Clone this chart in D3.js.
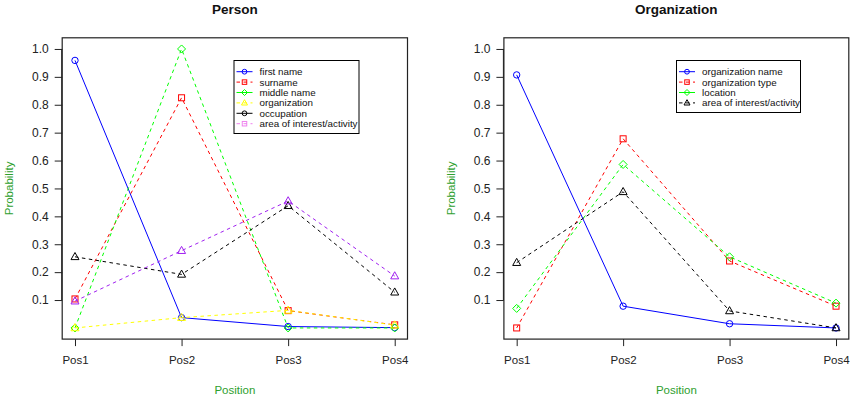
<!DOCTYPE html>
<html>
<head>
	<meta charset="utf-8">
	<title>Person / Organization</title>
	<script src="https://d3js.org/d3.v7.min.js"></script>
	<style>
	body{
		margin: 0;
		background: #ffffff;
		font-family: "Liberation Sans", Arial, Helvetica, sans-serif;
	}
	.tick text{
		fill: #222222;
	}
	</style>
</head>
<body>
	<div id="chart"></div>
	<script>
		var positions = ["Pos1", "Pos2", "Pos3", "Pos4"];
		var yTicks = [0.1, 0.2, 0.3, 0.4, 0.5, 0.6, 0.7, 0.8, 0.9, 1.0];

		// Person panel
		var personNames = ["first name", "surname", "middle name", "organization", "occupation", "area of interest/activity"];
		var firstName = [0.959, 0.037, 0.005, 0.001];
		var surname = [0.104, 0.825, 0.062, 0.011];
		var middleName = [0.0, 1.0, 0.0, 0.0];
		var organization = [0.0, 0.037, 0.063, 0.010];
		var occupation = [0.255, 0.192, 0.438, 0.128];
		var areaPerson = [0.096, 0.277, 0.455, 0.186];

		// Organization panel
		var orgNames = ["organization name", "organization type", "location", "area of interest/activity"];
		var orgName = [0.907, 0.078, 0.015, 0.0];
		var orgType = [0.0, 0.678, 0.240, 0.078];
		var orgLocation = [0.070, 0.586, 0.255, 0.089];
		var areaOrg = [0.234, 0.488, 0.061, 0.0];

		var width = 851, height = 400;

		var svg = d3.select("#chart")
			.append("svg")
			.attr("width", width)
			.attr("height", height);

		var personSeries = [
			{name: personNames[0], values: firstName, color: "#0000ff", dash: null, shape: "circle", lcolor: "#0000ff", ldash: null, lshape: "circle"},
			{name: personNames[1], values: surname, color: "#ff0000", dash: "3.5,3.5", shape: "square", lcolor: "#ff0000", ldash: "3.5,3.5", lshape: "square"},
			{name: personNames[2], values: middleName, color: "#00ff00", dash: "3.5,3.5", shape: "diamond", lcolor: "#00ff00", ldash: null, lshape: "diamond"},
			{name: personNames[3], values: organization, color: "#ffff00", dash: "3.5,3.5", shape: "triangle", lcolor: "#ffff00", ldash: "3.5,3.5", lshape: "triangle"},
			{name: personNames[4], values: occupation, color: "#000000", dash: "3.5,3.5", shape: "triangle", lcolor: "#000000", ldash: null, lshape: "circle"},
			{name: personNames[5], values: areaPerson, color: "#a020f0", dash: "3.5,3.5", shape: "triangle", lcolor: "#ee82ee", ldash: "3.5,3.5", lshape: "square"}
		];

		var orgSeries = [
			{name: orgNames[0], values: orgName, color: "#0000ff", dash: null, shape: "circle", lcolor: "#0000ff", ldash: null, lshape: "circle"},
			{name: orgNames[1], values: orgType, color: "#ff0000", dash: "3.5,3.5", shape: "square", lcolor: "#ff0000", ldash: "3.5,3.5", lshape: "square"},
			{name: orgNames[2], values: orgLocation, color: "#00ff00", dash: "3.5,3.5", shape: "diamond", lcolor: "#00ff00", ldash: null, lshape: "diamond"},
			{name: orgNames[3], values: areaOrg, color: "#000000", dash: "3.5,3.5", shape: "triangle", lcolor: "#000000", ldash: "3.5,3.5", lshape: "triangle"}
		];

		drawPanel({
			title: "Person",
			series: personSeries,
			left: 62.2, right: 407.5,
			legend: {x: 234, y: 60.5, w: 125, h: 73}
		});

		drawPanel({
			title: "Organization",
			series: orgSeries,
			left: 503.9, right: 848.8,
			legend: {x: 676.5, y: 60.5, w: 124, h: 52}
		});

		function drawMarker(g, shape, x, y, color, k){
			k = k || 1;
			var m;
			if(shape == "circle"){
				m = g.append("circle").attr("cx", x).attr("cy", y).attr("r", 3.2 * k);
			} else if(shape == "square"){
				m = g.append("rect").attr("x", x - 3 * k).attr("y", y - 3 * k).attr("width", 6 * k).attr("height", 6 * k);
			} else if(shape == "diamond"){
				m = g.append("path").attr("d", "M" + x + "," + (y - 4 * k) + "L" + (x + 4 * k) + "," + y + "L" + x + "," + (y + 4 * k) + "L" + (x - 4 * k) + "," + y + "Z");
			} else {
				m = g.append("path").attr("d", "M" + x + "," + (y - 4.3 * k) + "L" + (x + 4 * k) + "," + (y + 2.8 * k) + "L" + (x - 4 * k) + "," + (y + 2.8 * k) + "Z");
			}
			m.attr("fill", "none").attr("stroke", color).attr("stroke-width", 1);
		}

		function drawPanel(p){
			var top = 37.8, bottom = 339.1;
			var g = svg.append("g");

			var x = d3.scaleLinear().domain([0.88, 4.12]).range([p.left, p.right]);
			var y = d3.scaleLinear().domain([-0.04, 1.04]).range([bottom, top]);

			// title
			g.append("text")
				.attr("x", (p.left + p.right) / 2)
				.attr("y", 14)
				.attr("text-anchor", "middle")
				.style("font-size", "13.5px")
				.style("font-weight", "bold")
				.style("fill", "#111")
				.text(p.title);

			// series
			p.series.forEach(function(s){
				var line = d3.line()
					.x(function(d, i){return x(i + 1);})
					.y(function(d){return y(d);});
				g.append("path")
					.datum(s.values)
					.attr("d", line)
					.attr("fill", "none")
					.attr("stroke", s.color)
					.attr("stroke-width", 1)
					.attr("stroke-dasharray", s.dash);
				s.values.forEach(function(v, i){
					drawMarker(g, s.shape, x(i + 1), y(v), s.color);
				});
			});

			// box
			g.append("rect")
				.attr("x", p.left)
				.attr("y", top)
				.attr("width", p.right - p.left)
				.attr("height", bottom - top)
				.attr("fill", "none")
				.attr("stroke", "#222")
				.attr("stroke-width", 1.2);

			// y axis
			var yAxis = d3.axisLeft(y)
				.tickValues(yTicks)
				.tickSize(7.5)
				.tickPadding(6)
				.tickFormat(d3.format(".1f"));
			var ya = g.append("g")
				.attr("transform", "translate(" + p.left + ",0)")
				.call(yAxis);
			ya.select(".domain")
				.attr("d", "M-0.5," + y(0.1) + "V" + y(1.0))
				.attr("stroke", "#222");
			ya.selectAll(".tick line").attr("stroke", "#222");
			ya.selectAll("text").style("font-size", "12px");

			// x axis
			var xAxis = d3.axisBottom(x)
				.tickValues([1, 2, 3, 4])
				.tickSize(7)
				.tickPadding(10)
				.tickFormat(function(d){return positions[d - 1];});
			var xa = g.append("g")
				.attr("transform", "translate(0," + bottom + ")")
				.call(xAxis);
			xa.select(".domain").remove();
			xa.selectAll(".tick line").attr("stroke", "#222");
			xa.selectAll("text").style("font-size", "11.5px");

			// axis titles
			g.append("text")
				.attr("x", (p.left + p.right) / 2)
				.attr("y", 394)
				.attr("text-anchor", "middle")
				.style("font-size", "11.5px")
				.style("fill", "#2ea02e")
				.text("Position");

			g.append("text")
				.attr("transform", "translate(" + (p.left - 49) + "," + ((top + bottom) / 2) + ") rotate(-90)")
				.attr("text-anchor", "middle")
				.style("font-size", "11.5px")
				.style("fill", "#2ea02e")
				.text("Probability");

			// legend
			var L = p.legend;
			var lg = g.append("g");
			lg.append("rect")
				.attr("x", L.x)
				.attr("y", L.y)
				.attr("width", L.w)
				.attr("height", L.h)
				.attr("fill", "#ffffff")
				.attr("stroke", "#000")
				.attr("stroke-width", 1);
			p.series.forEach(function(s, i){
				var ry = L.y + 11.2 + i * 10.4;
				lg.append("line")
					.attr("x1", L.x + 2.5)
					.attr("x2", L.x + 18.5)
					.attr("y1", ry)
					.attr("y2", ry)
					.attr("stroke", s.lcolor)
					.attr("stroke-dasharray", s.ldash);
				drawMarker(lg, s.lshape, L.x + 10.5, ry, s.lcolor, 0.75);
				lg.append("text")
					.attr("x", L.x + 25.5)
					.attr("y", ry)
					.attr("dy", "0.35em")
					.style("font-size", "9.8px")
					.style("fill", "#111")
					.text(s.name);
			});
		}
	</script>
</body>
</html>
